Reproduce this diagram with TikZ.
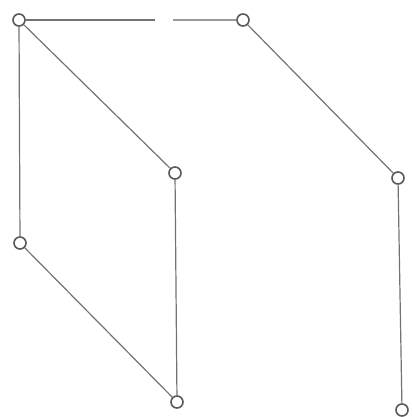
\documentclass[tikz,border=0pt]{standalone}
\usepackage{tikz}
\usetikzlibrary{positioning}

\begin{document}
\begin{tikzpicture}[
			x=0.75pt, y=-0.75pt,
			vertex/.style={draw=black!65, circle, line width=1.2pt, minimum size=9pt, inner sep=0pt, fill=white},
			edge/.style={draw=black!55, line width=0.9pt}
			]
			\useasboundingbox (0,0) rectangle (411,417);
			
			% Nodes
			\node[vertex] (a) at (19,20) {};
			\node[vertex] (b) at (243,20) {};
			\node[vertex] (c) at (175,173) {};
			\node[vertex] (d) at (398,178) {};
			\node[vertex] (e) at (20,243) {};
			\node[vertex] (f) at (177,402) {};
			\node[vertex] (g) at (402,410) {};
			\coordinate (gapl) at (155,20);
			\coordinate (gapr) at (173,20);
			
			% Edges
			\draw[edge] (a) -- (gapl);
			\draw[edge, draw=black!40] (gapr) -- (b);
			\draw[edge] (a) -- (c);
			\draw[edge] (a) -- (e);
			\draw[edge] (b) -- (d);
			\draw[edge] (c) -- (f);
			\draw[edge] (e) -- (f);
			\draw[edge] (d) -- (g);
			
		\end{tikzpicture}
\end{document}
